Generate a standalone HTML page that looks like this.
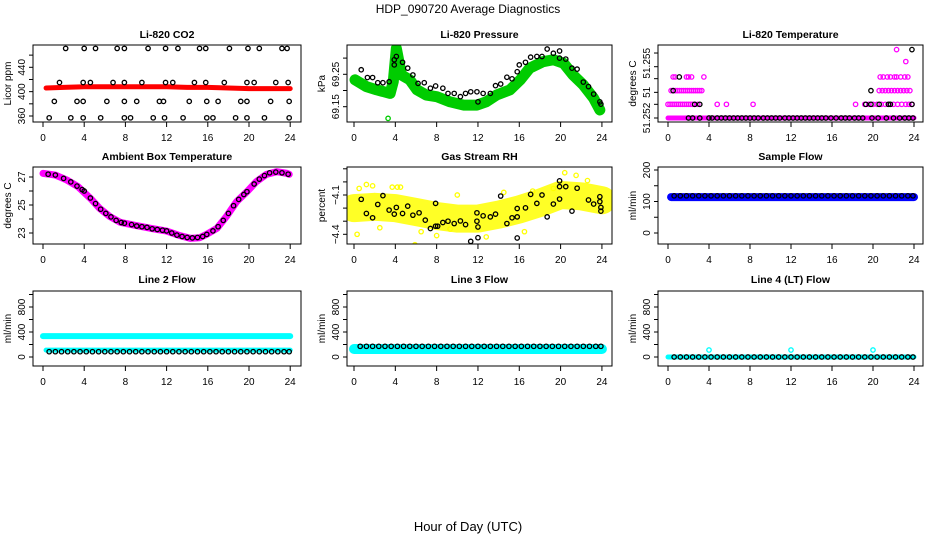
<!DOCTYPE html>
<html><head><meta charset="utf-8">
<style>
html,body{margin:0;padding:0;background:#fff;}
svg{display:block;font-family:"Liberation Sans",sans-serif;}
</style></head>
<body>
<svg id="chart" width="936" height="540" viewBox="0 0 936 540" xmlns="http://www.w3.org/2000/svg">
<text x="468" y="13" text-anchor="middle" font-size="12">HDP_090720  Average Diagnostics</text>
<text x="468" y="531" text-anchor="middle" font-size="13">Hour of Day (UTC)</text>
</svg>
<script>
// ---- shared ----
const xTicks=[0,4,8,12,16,20,24];
const flowHours=[0.6,1.2,1.8,2.4,3.0,3.6,4.2,4.8,5.4,6.0,6.6,7.2,7.8,8.4,9.0,9.6,10.2,10.8,11.4,12.0,12.6,13.2,13.8,14.4,15.0,15.6,16.2,16.8,17.4,18.0,18.6,19.2,19.8,20.4,21.0,21.6,22.2,22.8,23.4,23.9];
// ---- CO2 ----
const co2RedH=[0.3,2,4,6,8,10,12,14,16,18,20,22,24];
const co2RedV=[406,407,408,408,408,408,408,407,407,406,405,405,405];
const co2H1=[2.2,4.0,5.1,7.2,7.9,10.2,11.9,13.1,15.2,15.8,18.1,19.9,21.0,23.2,23.7];
const co2H2=[1.6,3.9,4.6,6.8,7.9,9.6,11.9,12.6,14.7,15.8,17.6,19.8,20.5,22.6,23.8];
const co2H3=[1.1,3.3,3.9,6.2,7.9,9.1,11.3,11.7,14.2,15.9,17.0,19.2,19.8,22.1,23.9];
const co2H4=[0.6,2.7,3.9,5.6,7.9,8.5,10.7,11.8,13.6,15.9,16.5,18.7,19.8,21.5,23.9];
const co2Levels=[471,415,384,357];
// ---- Pressure ----
const presGreenH=[0.1,1.2,2.2,3.5,3.8,4.1,4.6,5.4,6.1,7.0,8.0,9.3,10.6,11.9,12.8,13.8,15.1,16.1,17.0,18.3,19.3,20.3,21.2,22.2,23.2,23.8];
const presGreenV=[69.233,69.212,69.202,69.191,69.227,69.330,69.248,69.233,69.202,69.186,69.181,69.165,69.155,69.155,69.165,69.186,69.202,69.233,69.269,69.289,69.295,69.284,69.248,69.217,69.176,69.140];
const presGreenPtH=[3.3,4.1,3.8,4.3];
const presGreenPtV=[69.114,69.335,69.280,69.320];
const presBlackH=[0.7,1.3,1.8,2.3,2.8,3.4,3.9,4.1,3.9,4.7,5.2,5.7,6.2,6.8,7.4,7.9,8.6,9.1,9.7,10.3,10.8,11.3,11.9,12.0,12.5,13.2,13.7,14.2,14.8,15.3,15.8,16.0,16.6,17.1,17.7,18.2,18.7,19.3,19.9,19.9,20.5,21.1,21.6,22.2,22.7,23.2,23.8,23.9];
const presBlackV=[69.264,69.240,69.240,69.224,69.224,69.227,69.295,69.305,69.279,69.287,69.269,69.248,69.222,69.224,69.207,69.214,69.207,69.191,69.191,69.181,69.191,69.196,69.196,69.165,69.191,69.191,69.215,69.220,69.241,69.236,69.258,69.279,69.287,69.303,69.305,69.305,69.328,69.315,69.322,69.300,69.297,69.269,69.266,69.226,69.212,69.189,69.165,69.158];
// ---- Li-820 Temperature ----
const tempLevels=[51.2520,51.2528,51.2536,51.2544];
const tempBandH=[0.0,24.0];
const tempBlackL0=[2.0,2.4,3.1,4.0,4.3,4.8,5.2,5.6,6.0,6.4,6.8,7.2,7.6,8.0,8.4,8.8,9.3,9.7,10.1,10.5,10.9,11.4,11.8,12.2,12.6,13.0,13.4,13.8,14.2,14.6,15.0,15.4,15.9,16.4,16.9,17.3,17.7,18.2,18.6,19.0,19.9,20.5,21.3,22.0,22.6,23.1,23.5,23.9];
const tempMagL1=[0.0,0.2,0.4,0.6,0.8,1.0,1.2,1.4,1.6,1.8,2.0,2.2,2.4,2.6,2.9,4.8,5.7,8.3,18.3,19.2,19.6,20.0,20.4,20.8,21.2,21.6,22.0,22.4,22.8,23.2,23.5,23.8];
const tempBlackL1=[2.6,3.1,19.3,19.8,20.6,21.5,21.7,23.8];
const tempMagL2=[0.3,0.5,0.7,0.9,1.1,1.3,1.5,1.7,1.9,2.1,2.3,2.5,2.7,2.9,3.1,3.3,20.6,20.9,21.2,21.5,21.8,22.1,22.4,22.7,23.0,23.3,23.6];
const tempBlackL2=[0.5,19.8];
const tempMagL3=[0.5,0.7,1.8,2.0,2.3,3.5,20.7,21.0,21.4,21.7,22.1,22.3,22.7,23.1,23.4];
const tempBlackL3=[1.1];
const tempHighMagH=[22.3,23.2];
const tempHighMagV=[51.2560,51.2553];
const tempHighBlackH=[23.8];
const tempHighBlackV=[51.2560];
// ---- Ambient ----
const ambBandH=[0,1.2,2.3,3.4,4.6,5.5,6.5,7.5,8.8,10.4,12,13.3,14.3,15.2,15.9,16.9,17.8,18.8,19.8,20.7,21.7,22.7,23.7,23.9];
const ambBandV=[27.26,27.14,26.79,26.31,25.48,24.76,24.17,23.76,23.57,23.34,23.14,22.81,22.62,22.66,22.91,23.34,24.17,25.24,25.95,26.66,27.19,27.38,27.26,27.19];
const ambBlackH=[0.5,1.2,2.0,2.7,3.3,3.8,4.0,4.6,5.1,5.6,6.1,6.6,7.1,7.6,7.9,8.6,9.1,9.6,10.1,10.6,11.1,11.6,12.0,12.5,13.0,13.5,14.0,14.5,15.0,15.5,15.9,16.5,17.0,17.5,18.0,18.5,19.0,19.5,19.8,20.5,21.0,21.5,22.0,22.6,23.2,23.8];
const ambBlackV=[27.2,27.14,26.9,26.65,26.35,26.1,26.0,25.5,25.1,24.7,24.4,24.15,23.9,23.75,23.7,23.6,23.5,23.45,23.4,23.3,23.25,23.2,23.15,23.0,22.85,22.75,22.68,22.65,22.68,22.75,22.9,23.15,23.45,23.9,24.4,24.95,25.4,25.75,25.95,26.5,26.85,27.1,27.3,27.35,27.3,27.2];
// ---- Gas RH ----
const rhYellowH=[0,2,4,6,8,10,12,14,16,18,20,22,24];
const rhYellowV=[-4.2,-4.19,-4.2,-4.23,-4.26,-4.28,-4.28,-4.25,-4.21,-4.16,-4.1,-4.11,-4.14];
const rhYellowPtH=[0.3,1.2,1.8,3.7,4.2,4.5,5.9,6.5,8.0,9.3,11.5,12.8,16.5,20.4,21.5,22.6,19.3,17.3,0.5,2.5,10.0,14.5];
const rhYellowPtV=[-4.4,-4.02,-4.03,-4.04,-4.04,-4.04,-4.48,-4.38,-4.41,-4.36,-4.5,-4.42,-4.38,-3.93,-3.95,-3.99,-4.05,-4.07,-4.05,-4.35,-4.1,-4.08];
const rhBlackH=[0.7,1.2,1.8,2.3,2.8,3.4,3.9,4.1,4.7,5.2,5.7,6.3,6.9,7.4,7.9,7.9,8.1,8.6,9.1,9.7,10.3,10.8,11.3,11.9,11.9,12.0,12.0,12.5,13.2,13.7,14.2,14.8,15.3,15.8,15.8,15.8,16.6,17.1,17.7,18.2,18.7,19.3,19.9,19.9,19.9,20.5,21.1,21.6,22.7,23.2,23.8,23.9,23.9,23.8];
const rhBlackV=[-4.133,-4.241,-4.274,-4.172,-4.105,-4.215,-4.246,-4.195,-4.241,-4.185,-4.254,-4.236,-4.292,-4.356,-4.338,-4.164,-4.338,-4.310,-4.300,-4.318,-4.298,-4.326,-4.454,-4.236,-4.300,-4.344,-4.426,-4.259,-4.267,-4.246,-4.108,-4.318,-4.274,-4.203,-4.267,-4.428,-4.198,-4.095,-4.164,-4.100,-4.267,-4.169,-3.992,-4.036,-4.131,-4.036,-4.223,-4.048,-4.138,-4.169,-4.113,-4.195,-4.223,-4.151];
// ---- Flows ----
const sampleBlueH=[0.3,24.0];
const sampleBlueV=[114,114];
const sampleBlackLevel=[118];
const line2CyanHighH=[0.0,24.0];
const line2CyanHighV=[334,334];
const line2CyanLowH=[0.3,24.0];
const line2CyanLowV=[110,110];
const line2BlackLevel=[85];
const line3CyanH=[0.0,24.0];
const line3CyanV=[128,128];
const line3BlackLevel=[171];
const line4CyanH=[0.0,24.0];
const line4CyanV=[0,0];
const line4BlackLevel=[0];
const line4CyanPtH=[4.0,12.0,20.0];
const line4CyanPtV=[112,112,112];

const NS="http://www.w3.org/2000/svg";
const svg=document.getElementById('chart');
function mk(tag,attrs,parent){const e=document.createElementNS(NS,tag);for(const k in attrs)e.setAttribute(k,attrs[k]);(parent||svg).appendChild(e);return e;}

const cols=[{l:33,r:301,x0:43,xs:10.3},{l:347,r:612,x0:354,xs:10.33},{l:658,r:923,x0:668,xs:10.25}];
const rows=[{t:45,b:122,ty:34},{t:167,b:244,ty:156},{t:291,b:366,ty:279}];

function panel(ci,ri,title,ylabel,yv0,yp0,yv1,yp1,ticks,labels,labelText,slug){
  const c=cols[ci],r=rows[ri];
  const g=mk('g',{});
  
  
  const X=h=>c.x0+h*c.xs;
  const Y=v=>yp0+(v-yv0)*(yp1-yp0)/(yv1-yv0);
  const t=mk('text',{x:(c.l+c.r)/2,y:r.ty+4,'text-anchor':'middle','font-size':10.5,'font-weight':'bold'},g);
  t.textContent=title;
  
  
  const yl=mk('text',{x:0,y:0,'text-anchor':'middle','font-size':10,transform:`translate(${c.l-22},${(r.t+r.b)/2}) rotate(-90)`},g);
  yl.textContent=ylabel;
  
  
  ticks.forEach(v=>{mk('line',{x1:c.l-4,x2:c.l,y1:Y(v),y2:Y(v),stroke:'#000','stroke-width':1},g);});
  labels.forEach((v,i)=>{
    const lt=mk('text',{x:0,y:0,'text-anchor':'middle','font-size':10,transform:`translate(${c.l-8},${Y(v)}) rotate(-90)`},g);
    lt.textContent=labelText?labelText[i]:String(v);
    
    
  });
  xTicks.forEach(h=>{
    mk('line',{x1:X(h),x2:X(h),y1:r.b,y2:r.b+5,stroke:'#000','stroke-width':1},g);
    const xt=mk('text',{x:X(h),y:r.b+19,'text-anchor':'middle','font-size':10},g);
    xt.textContent=h;
    
    
  });
  const plot=mk('g',{},g);
  const cp=mk('clipPath',{id:'cp'+slug},g);
  mk('rect',{x:c.l,y:r.t,width:c.r-c.l,height:r.b-r.t},cp);
  plot.setAttribute('clip-path',`url(#cp${slug})`);
  const box=mk('rect',{x:c.l,y:r.t,width:c.r-c.l,height:r.b-r.t,fill:'none',stroke:'#000','stroke-width':1},g);
  
  
  return {
    band(hs,vs,color,w,name,op){
      const p=mk('polyline',{points:hs.map((h,i)=>X(h)+','+Y(vs[i])).join(' '),fill:'none',stroke:color,'stroke-width':w,'stroke-linejoin':'round','stroke-linecap':'round','stroke-opacity':op||1},plot);
      
      
    },
    pts(hs,vs,color,name){
      hs.forEach((h,i)=>{
        const cc=mk('circle',{cx:X(h),cy:Y(vs[i]),r:2.2,fill:'none',stroke:color,'stroke-width':1.3},plot);
        
        
      });
    },
    lvl(hs,v,color,name){
      hs.forEach(h=>{
        const cc=mk('circle',{cx:X(h),cy:Y(v),r:2.2,fill:'none',stroke:color,'stroke-width':1.3},plot);
        
        
      });
    }
  };
}

// CO2
let p=panel(0,0,'Li-820 CO2','Licor ppm',360,116,440,67.3,[360,380,400,420,440,460],[360,400,440],null,'co2');
p.band(co2RedH,co2RedV,'#ff0000',5,'co2-red-series');
[co2H1,co2H2,co2H3,co2H4].forEach((hs,i)=>p.lvl(hs,co2Levels[i],'#000','co2-point'));
// Pressure
p=panel(1,0,'Li-820 Pressure','kPa',69.15,106.7,69.25,74.3,[69.15,69.20,69.25,69.30],[69.15,69.25],['69.15','69.25'],'pressure');
p.band(presGreenH,presGreenV,'#00cc00',11,'pressure-green-series');
p.pts(presGreenPtH,presGreenPtV,'#00cc00','pressure-green-point');
p.pts(presBlackH,presBlackV,'#000','pressure-black-point');
// Temp
p=panel(2,0,'Li-820 Temperature','degrees C',51.252,118,51.255,66.7,[51.2520,51.2528,51.2535,51.2543,51.2550,51.2558],[51.2520,51.2535,51.2552],['51.252','51','51.255'],'li820-temp');
p.band(tempBandH,[tempLevels[0],tempLevels[0]],'#ff00ff',5,'temp-magenta-band');
p.lvl(tempMagL1,tempLevels[1],'#ff00ff','temp-magenta-point');
p.lvl(tempMagL2,tempLevels[2],'#ff00ff','temp-magenta-point');
p.lvl(tempMagL3,tempLevels[3],'#ff00ff','temp-magenta-point');
p.pts(tempHighMagH,tempHighMagV,'#ff00ff','temp-magenta-point');
p.lvl(tempBlackL0,tempLevels[0],'#000','temp-black-point');
p.lvl(tempBlackL1,tempLevels[1],'#000','temp-black-point');
p.lvl(tempBlackL2,tempLevels[2],'#000','temp-black-point');
p.lvl(tempBlackL3,tempLevels[3],'#000','temp-black-point');
p.pts(tempHighBlackH,tempHighBlackV,'#000','temp-black-point');
// Ambient
p=panel(0,1,'Ambient Box Temperature','degrees C',23,233,27,177,[23,24,25,26,27],[23,25,27],null,'ambient');
p.band(ambBandH,ambBandV,'#ff00ff',7,'ambient-magenta-series');
p.pts(ambBlackH,ambBlackV,'#000','ambient-black-point');
// RH
p=panel(1,1,'Gas Stream RH','percent',-4.4,234.3,-4.1,195,[-3.9,-4.0,-4.1,-4.2,-4.3,-4.4],[-4.1,-4.4],['\u22124.1','\u22124.4'],'rh');
p.band(rhYellowH,rhYellowV,'#ffff00',28,'rh-yellow-cloud',0.85);
p.pts(rhYellowPtH,rhYellowPtV,'#ffff00','rh-yellow-point');
p.pts(rhBlackH,rhBlackV,'#000','rh-black-point');
// Sample flow
p=panel(2,1,'Sample Flow','ml/min',0,233,200,170,[0,50,100,150,200],[0,100,200],null,'sample-flow');
p.band(sampleBlueH,sampleBlueV,'#0000ff',8,'sample-blue-series');
p.lvl(flowHours,sampleBlackLevel[0],'#000','sample-black-point');
// Line 2
p=panel(0,2,'Line 2 Flow','ml/min',0,357,800,307,[0,200,400,600,800,1000],[0,400,800],null,'line2');
p.band(line2CyanHighH,line2CyanHighV,'#00ffff',6,'line2-cyan-high');
p.band(line2CyanLowH,line2CyanLowV,'#00ffff',5,'line2-cyan-low');
p.lvl(flowHours,line2BlackLevel[0],'#000','line2-black-point');
// Line 3
p=panel(1,2,'Line 3 Flow','ml/min',0,357,800,307,[0,200,400,600,800,1000],[0,400,800],null,'line3');
p.band(line3CyanH,line3CyanV,'#00ffff',10,'line3-cyan-series');
p.lvl(flowHours,line3BlackLevel[0],'#000','line3-black-point');
// Line 4
p=panel(2,2,'Line 4 (LT) Flow','ml/min',0,357,800,307,[0,200,400,600,800,1000],[0,400,800],null,'line4');
p.band(line4CyanH,line4CyanV,'#00ffff',5,'line4-cyan-series');
p.pts(line4CyanPtH,line4CyanPtV,'#00ffff','line4-cyan-point');
p.lvl(flowHours,line4BlackLevel[0],'#000','line4-black-point');
</script>
</body></html>
